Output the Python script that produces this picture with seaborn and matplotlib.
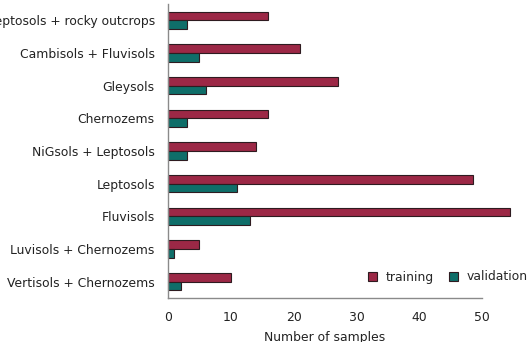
import matplotlib

matplotlib.use("Agg")
import matplotlib.pyplot as plt
import pandas as pd
import seaborn as sns

soil_classes = [
    "Leptosols + rocky outcrops",
    "Cambisols + Fluvisols",
    "Gleysols",
    "Chernozems",
    "NiGsols + Leptosols",
    "Leptosols",
    "Fluvisols",
    "Luvisols + Chernozems",
    "Vertisols + Chernozems",
]
training = [16, 21, 27, 16, 14, 48.5, 54.5, 5, 10]
validation = [3, 5, 6, 3, 3, 11, 13, 1, 2]
set_names = ["training", "validation"]
set_colors = ["#9c2846", "#0f6e69"]

df = pd.DataFrame(
    {
        "soil": soil_classes * 2,
        "samples": training + validation,
        "set": [set_names[0]] * len(training) + [set_names[1]] * len(validation),
    }
)

sns.set_style("white")
plt.rcParams["font.family"] = ["DejaVu Sans"]
fs = 8.9

fig, ax = plt.subplots(figsize=(5.28, 3.42), dpi=100)
fig.subplots_adjust(left=168 / 528, right=482 / 528, bottom=1 - 298 / 342, top=1 - 4 / 342)

sns.barplot(
    data=df,
    x="samples",
    y="soil",
    hue="set",
    orient="h",
    palette=set_colors,
    saturation=1,
    width=0.54,
    edgecolor="#2e1b20",
    linewidth=0.8,
    ax=ax,
)
for bar in ax.patches:
    bar.set_clip_on(False)

ax.set_xlim(0, 50)
ax.set_ylim(8.5, -0.5)
ax.set_xticks([0, 10, 20, 30, 40, 50])
ax.set_xlabel("Number of samples", fontsize=fs, labelpad=5, color="#222222")
ax.set_ylabel("")
ax.tick_params(axis="both", length=0, labelsize=fs, colors="#222222")
ax.tick_params(axis="y", pad=9.5)
ax.tick_params(axis="x", pad=9.5)
sns.despine(ax=ax)
for side in ["left", "bottom"]:
    ax.spines[side].set_color("#8a8a8a")
    ax.spines[side].set_linewidth(1.0)

handles, labels = ax.get_legend_handles_labels()
ax.get_legend().remove()
fig.legend(
    handles,
    labels,
    ncol=2,
    frameon=False,
    loc="center right",
    bbox_to_anchor=(1.0, 1 - 277 / 342),
    bbox_transform=fig.transFigure,
    handlelength=0.75,
    handleheight=0.75,
    handletextpad=0.7,
    columnspacing=1.2,
    borderaxespad=0,
    borderpad=0,
    fontsize=fs,
)

fig.savefig("out.png", dpi=100)
